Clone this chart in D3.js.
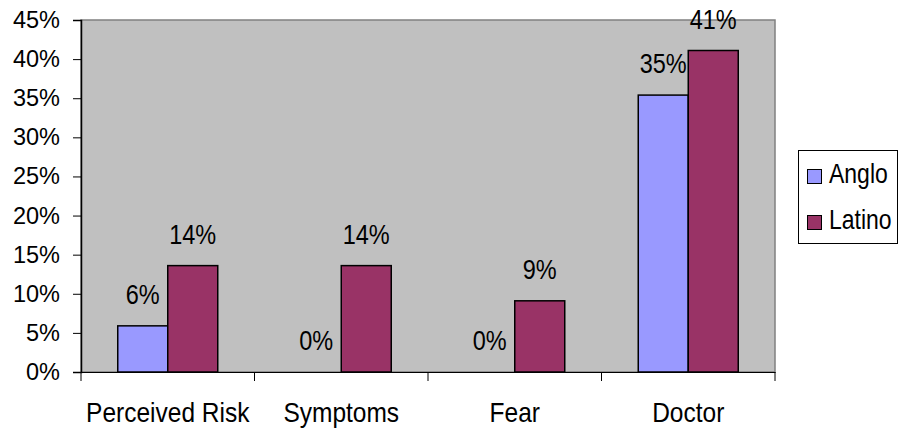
<!DOCTYPE html>
<html><head><meta charset="utf-8">
<script src="https://cdn.jsdelivr.net/npm/d3@7"></script>
<style>body{margin:0;background:#fff}text{font-family:"Liberation Sans",Arial,sans-serif;fill:#000}</style>
</head><body>
<svg id="c" width="899" height="429"></svg>
<script>
const categories = ["Perceived Risk","Symptoms","Fear","Doctor"];
const seriesNames = ["Anglo","Latino"];
const anglo = [0.059, 0, 0, 0.354];
const latino = [0.136, 0.136, 0.091, 0.411];
const labelsAnglo = ["6%","0%","0%","35%"];
const labelsLatino = ["14%","14%","9%","41%"];
const yTicks = [0,0.05,0.10,0.15,0.20,0.25,0.30,0.35,0.40,0.45];
const colors = ["#9999FF","#993366"];

const svg = d3.select("#c");
const L=81, R=775, T=20, B=372;
const x = d3.scaleBand().domain(categories).range([L,R]).paddingInner(0).paddingOuter(0);
const y = d3.scaleLinear().domain([0,0.45]).range([B,T]);
const groupW = 100;
const xs = d3.scaleBand().domain(seriesNames).range([0,groupW]);

// plot background
svg.append("rect").attr("x",L).attr("y",T).attr("width",R-L).attr("height",B-T)
  .attr("fill","#C0C0C0").attr("stroke","#808080").attr("stroke-width",1.5);

const data = categories.map((c,i)=>({cat:c, vals:[anglo[i],latino[i]], labs:[labelsAnglo[i],labelsLatino[i]]}));
const g = svg.append("g");
data.forEach(d=>{
  const gx = x(d.cat) + (x.bandwidth()-groupW)/2;
  d.vals.forEach((v,j)=>{
    const bx = gx + xs(seriesNames[j]);
    if (v>0) {
      g.append("rect").attr("x",bx).attr("y",y(v)).attr("width",xs.bandwidth()).attr("height",B-y(v))
        .attr("fill",colors[j]).attr("stroke","#000").attr("stroke-width",1.5);
    }
    g.append("text").attr("text-anchor","middle").attr("font-size",23.5)
      .attr("transform",`translate(${bx+xs.bandwidth()/2},${y(v)-22}) scale(1,1.15)`)
      .text(d.labs[j]);
  });
});

// left axis
const ya = d3.axisLeft(y).tickValues(yTicks).tickSize(8).tickPadding(13).tickFormat(d3.format(".0%"));
const yg = svg.append("g").attr("transform",`translate(${L},0)`).call(ya);
yg.select(".domain").attr("stroke","#000").attr("stroke-width",1.5);
yg.selectAll(".tick line").attr("stroke","#000");
yg.selectAll(".tick text").attr("font-size",23.5).attr("font-family","Liberation Sans, Arial, sans-serif").attr("fill","#000");

// bottom axis
const xa = d3.axisBottom(x).tickSize(0).tickPadding(0);
const xg = svg.append("g").attr("transform",`translate(0,${B})`).call(xa);
xg.select(".domain").attr("stroke","#000").attr("stroke-width",1.2);
xg.selectAll(".tick text").attr("font-size",24.5).attr("font-family","Liberation Sans, Arial, sans-serif")
  .attr("fill","#000").attr("y",0).attr("dy",0).attr("transform","translate(0,50) scale(1,1.1)");
const bounds = categories.map(c=>x(c)).concat([x(categories[categories.length-1])+x.bandwidth()]);
xg.selectAll(".bt").data(bounds).enter().append("line").attr("class","bt")
  .attr("x1",d=>d).attr("x2",d=>d).attr("y1",0).attr("y2",9).attr("stroke","#000");

// legend
const lg = svg.append("g");
lg.append("rect").attr("x",798.5).attr("y",150.5).attr("width",99).attr("height",93)
  .attr("fill","#fff").attr("stroke","#000").attr("stroke-width",1);
seriesNames.forEach((s,i)=>{
  const yy = 169 + i*46;
  lg.append("rect").attr("x",807.5).attr("y",yy+0.5).attr("width",14).attr("height",14)
    .attr("fill",colors[i]).attr("stroke","#000").attr("stroke-width",1);
  lg.append("text").attr("font-size",23).attr("transform",`translate(829,${yy+14}) scale(1,1.2)`).text(s);
});
</script>
</body></html>
